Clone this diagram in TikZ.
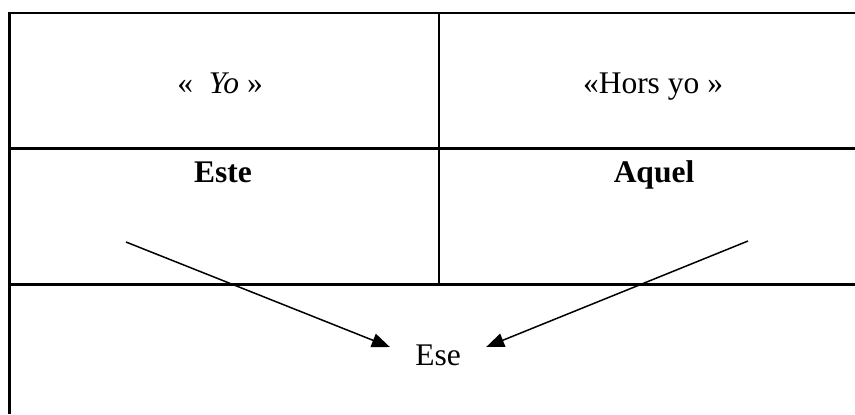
\documentclass[tikz,border=0pt]{standalone}
\usepackage{fontspec}
\setmainfont{Liberation Serif}
\usetikzlibrary{arrows.meta}
\begin{document}
\begin{tikzpicture}[x=0.5pt,y=-0.5pt,
  rule/.style={line width=1.2pt,line cap=rect},
  cell/.style={anchor=base,inner sep=0pt,font=\fontsize{15.75}{19}\selectfont},
  arr/.style={line width=0.75pt,-{Triangle[length=9pt,width=7pt]}}]
\useasboundingbox (0,0) rectangle (855,414);
% table rules
\draw[rule] (9.5,13) -- (855,13);
\draw[rule] (9.5,148.5) -- (855,148.5);
\draw[rule] (9.5,284.5) -- (855,284.5);
\draw[rule,line cap=butt] (9.5,12.5) -- (9.5,414);
\draw[rule,line cap=butt] (439,12.5) -- (439,284.5);
% texts
\node[cell] (yo) at (220,93) {« ~\textit{Yo} »};
\node[cell] (hors) at (653,93) {«Hors yo »};
\node[cell,font=\fontsize{15.75}{19}\selectfont\bfseries] (este) at (223,182) {Este};
\node[cell,font=\fontsize{15.75}{19}\selectfont\bfseries] (aquel) at (654,182) {Aquel};
\node[cell,text height=18pt,text depth=0pt,inner xsep=12.5pt] (ese) at (438,365) {Ese};
% arrows
\coordinate (a) at (126,242);
\coordinate (b) at (748,241);
\draw[arr] (a) -- (ese.west);
\draw[arr] (b) -- (ese.east);
\end{tikzpicture}
\end{document}
